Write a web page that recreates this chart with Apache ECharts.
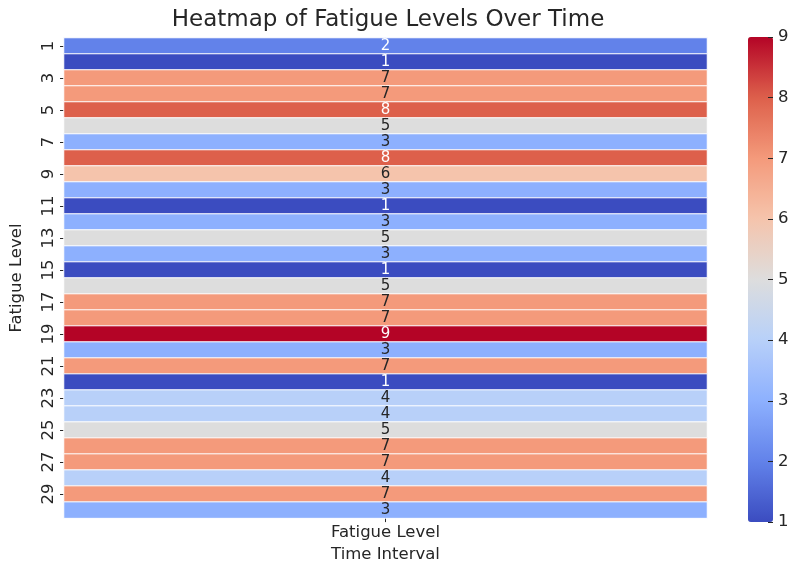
<!DOCTYPE html>
<html>
<head>
<meta charset="utf-8">
<script src="https://cdn.jsdelivr.net/npm/echarts@6/dist/echarts.min.js"></script>
<style>html,body{margin:0;padding:0;background:#fff}#c{width:792px;height:568px}</style>
</head>
<body>
<div id="c"></div>
<script>
const timeIntervals = Array.from({length: 30}, (_, i) => String(i + 1));
const columns = ['Fatigue Level'];
const fatigueValues = [2,1,7,7,8,5,3,8,6,3,1,3,5,3,1,5,7,7,9,3,7,1,4,4,5,7,7,4,7,3];
const colorbarTicks = [1,2,3,4,5,6,7,8,9];
const coolwarm = ['#3b4cc0','#6282ea','#8db0fe','#b8d0f9','#dddddd','#f5c4ac','#f49a7b','#dd604b','#b40426'];

const FONT = 'DejaVu Sans';
const TXT = '#262626';

const chart = echarts.init(document.getElementById('c'), null, {renderer: 'canvas'});
chart.setOption({
  animation: false,
  backgroundColor: '#fff',
  title: {
    text: 'Heatmap of Fatigue Levels Over Time',
    left: 383, top: 4, textAlign: 'center',
    textStyle: {fontFamily: FONT, fontSize: 23, fontWeight: 'normal', color: TXT}
  },
  grid: [
    {left: 59, right: 85, top: 38, bottom: 46},
    {left: 748, width: 25, top: 37, height: 485}
  ],
  xAxis: [
    {
      type: 'category', data: columns, gridIndex: 0,
      name: 'Time Interval', nameLocation: 'middle', nameGap: 27,
      nameTextStyle: {fontFamily: FONT, fontSize: 16.5, color: TXT},
      axisLine: {show: false},
      axisTick: {show: true, alignWithLabel: true, length: 4, lineStyle: {color: TXT}},
      axisLabel: {fontFamily: FONT, fontSize: 16.5, color: TXT, margin: 6},
      splitLine: {show: false}
    },
    {type: 'category', gridIndex: 1, show: false, data: ['']}
  ],
  yAxis: [
    {
      type: 'category', data: timeIntervals, inverse: true, gridIndex: 0,
      name: 'Fatigue Level', nameLocation: 'middle', nameGap: 39, nameRotate: 90,
      nameTextStyle: {fontFamily: FONT, fontSize: 16.5, color: TXT},
      axisLine: {show: false},
      axisTick: {show: true, alignWithLabel: true, interval: 1, length: 4, lineStyle: {color: TXT}},
      axisLabel: {fontFamily: FONT, fontSize: 16.5, color: TXT, rotate: 90, interval: 1, margin: 7},
      splitLine: {show: false}
    },
    {
      type: 'value', gridIndex: 1, position: 'right', min: 1, max: 9, interval: 1, z: 10,
      axisLine: {show: false},
      axisTick: {show: true, inside: true, length: 5, lineStyle: {color: TXT}},
      axisLabel: {fontFamily: FONT, fontSize: 16.5, color: TXT, margin: 5,
        formatter: v => colorbarTicks.includes(v) ? String(v) : ''},
      splitLine: {show: false}
    }
  ],
  visualMap: {
    type: 'continuous', min: 1, max: 9, seriesIndex: 0, z: 1,
    calculable: false, realtime: false, hoverLink: false,
    orient: 'vertical', left: 748, top: 37, padding: 0,
    itemWidth: 25, itemHeight: 485, text: null, showLabel: false,
    inRange: {color: coolwarm}
  },
  series: [
    {
      type: 'heatmap', xAxisIndex: 0, yAxisIndex: 0,
      data: fatigueValues.map((v, i) => ({
        value: [0, i, v],
        label: {color: (v <= 2 || v >= 8) ? '#ffffff' : '#262626'}
      })),
      itemStyle: {borderColor: '#fff', borderWidth: 1},
      label: {
        show: true, fontFamily: FONT, fontSize: 15,
        formatter: p => String(p.value[2])
      },
      emphasis: {disabled: true}
    }
  ]
});
</script>
</body>
</html>
